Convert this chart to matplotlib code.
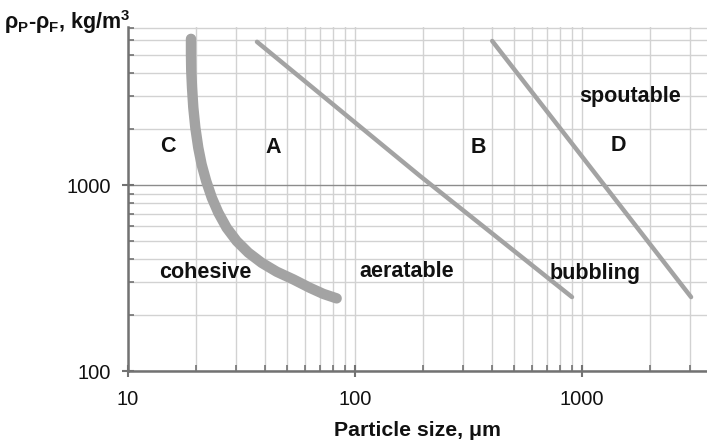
import matplotlib
matplotlib.use("Agg")
import matplotlib.pyplot as plt
from matplotlib.ticker import LogLocator, NullFormatter, FixedLocator, FixedFormatter

plt.rcParams['font.family'] = ['Liberation Sans', 'DejaVu Sans']
plt.rcParams['mathtext.fontset'] = 'custom'
plt.rcParams['mathtext.rm'] = 'Liberation Sans:bold'
plt.rcParams['mathtext.it'] = 'Liberation Sans:bold'

# boundary C / A (cohesive -> aeratable)
ca_x = [18.95, 18.95, 19.0, 19.15, 19.4, 19.8, 20.4, 21.1, 22.1, 23.4, 25.0, 27.2,
        30.1, 33.9, 38.8, 45.2, 53.5, 63.4, 72.5, 83]
ca_y = [6100, 5050, 4100, 3335, 2605, 2034, 1586, 1291, 1051, 855, 710, 589,
        500, 433, 382, 342, 311, 280, 260, 246]
# boundary A / B
ab_x = [37, 193, 903]
ab_y = [5880, 1120, 250]
# boundary B / D
bd_x = [402, 980, 3020]
bd_y = [5940, 1468, 250]

group_labels = ['C', 'A', 'B', 'D']
group_x = [15, 43.6, 348, 1440]
group_y = [1620, 1600, 1600, 1640]

region_labels = ['cohesive', 'aeratable', 'bubbling', 'spoutable']
region_x = [21.8, 169, 1140, 1630]
region_y = [340, 345, 333, 3000]

fig = plt.figure(figsize=(7.07, 4.45), dpi=100)
ax = fig.add_axes([0.181, 0.166, 0.819, 0.773])
ax.set_xscale('log')
ax.set_yscale('log')
ax.set_xlim(10, 3550)
ax.set_ylim(100, 7050)

line_col = '#a3a3a3'
ax.plot(ca_x, ca_y, color=line_col, lw=7.5, solid_capstyle='round',
        solid_joinstyle='round', zorder=3)
ax.plot(ab_x, ab_y, color=line_col, lw=3.2, solid_capstyle='round', zorder=3)
ax.plot(bd_x, bd_y, color=line_col, lw=3.2, solid_capstyle='round', zorder=3)

for t, x, y in zip(group_labels, group_x, group_y):
    ax.text(x, y, t, fontsize=15.5, fontweight='bold', ha='center', va='center', color='#111111')
for t, x, y in zip(region_labels, region_x, region_y):
    ax.text(x, y, t, fontsize=15.5, fontweight='bold', ha='center', va='center', color='#111111')

# grid
ax.xaxis.set_major_locator(FixedLocator([10, 100, 1000]))
ax.xaxis.set_major_formatter(FixedFormatter(['10', '100', '1000']))
ax.yaxis.set_major_locator(FixedLocator([100, 1000]))
ax.yaxis.set_major_formatter(FixedFormatter(['100', '1000']))
ax.xaxis.set_minor_locator(LogLocator(base=10, subs=range(2, 10)))
ax.yaxis.set_minor_locator(LogLocator(base=10, subs=range(2, 10)))
ax.xaxis.set_minor_formatter(NullFormatter())
ax.yaxis.set_minor_formatter(NullFormatter())
ax.grid(which='minor', color='#d2d2d2', lw=1.0)
ax.grid(which='major', axis='y', color='#8c8c8c', lw=1.0)
ax.grid(which='major', axis='x', color='#d2d2d2', lw=1.0)
ax.set_axisbelow(True)

for s in ['top', 'right']:
    ax.spines[s].set_visible(False)
for s in ['left', 'bottom']:
    ax.spines[s].set_color('#727272')
    ax.spines[s].set_linewidth(1.8)
ax.tick_params(which='major', direction='inout', length=9, width=1.5, color='#727272',
               labelsize=14.5, labelcolor='#111111')
ax.tick_params(axis='y', which='major', pad=8)
ax.tick_params(axis='x', which='major', pad=9)
ax.tick_params(which='minor', direction='in', length=4, width=1.2, color='#727272')

ax.set_xlabel('Particle size, μm', fontsize=15.3, fontweight='bold', color='#111111')
ax.xaxis.set_label_coords(0.5, -0.145)
fig.text(0.006, 0.95, r'ρ$_{P}$-ρ$_{F}$, kg/m$^{3}$', fontsize=15.5, fontweight='bold',
         color='#111111', ha='left', va='center')

fig.savefig('out.png', dpi=100)
